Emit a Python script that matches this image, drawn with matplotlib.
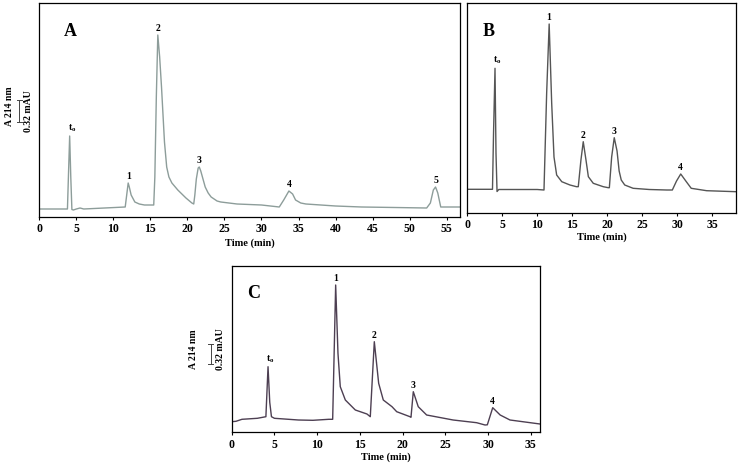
import matplotlib
matplotlib.use("Agg")
import matplotlib.pyplot as plt
from matplotlib.lines import Line2D

plt.rcParams['font.family'] = ['Liberation Serif', 'DejaVu Serif']
plt.rcParams['font.weight'] = 'bold'
plt.rcParams['mathtext.fontset'] = 'custom'
plt.rcParams['mathtext.rm'] = 'Liberation Serif:bold'
plt.rcParams['mathtext.bf'] = 'Liberation Serif:bold'
plt.rcParams['mathtext.it'] = 'Liberation Serif:bold'

# chromatogram A (time in min, signal in arbitrary units)
time_a = [0.0, 3.8, 3.95, 4.1, 4.25, 4.4, 4.6, 5.0, 5.5, 6.0, 11.6, 11.8, 12.0, 12.15,
          12.4, 12.9, 13.5, 14.2, 15.3, 15.45, 15.6, 15.8, 16.0, 16.25, 16.5, 16.9,
          17.2, 17.5, 17.9, 18.7, 19.8, 20.6, 20.85, 21.0, 21.2, 21.45, 21.6, 21.8,
          22.1, 22.4, 22.8, 23.2, 24.0, 24.5, 26.7, 30.0, 32.4, 33.0, 33.7, 34.2,
          34.6, 35.3, 36.0, 40.0, 43.5, 48.0, 52.3, 52.8, 53.2, 53.5, 53.8, 54.2,
          55.0, 56.8]
sig_a = [8, 8, 45, 81, 40, 7.5, 7, 8, 9, 8, 10, 22, 34, 30,
         22, 15, 13, 12, 12, 12, 40, 120, 182, 160, 130, 75,
         50, 40, 34, 27, 19, 14, 13, 22, 38, 49, 50, 46,
         38, 30, 24, 20, 16, 15, 13, 12, 10, 17, 26, 23,
         17, 14, 13, 11, 10, 9.5, 9, 14, 27, 30, 24, 10,
         10, 10]
peaks_a = ["t0", "1", "2", "3", "4", "5"]
peak_t_a = [4.1, 12.0, 16.0, 21.6, 33.7, 53.5]
peak_h_a = [81, 34, 182, 50, 26, 30]

# chromatogram B
time_b = [0.0, 3.6, 3.75, 3.96, 4.1, 4.25, 4.5, 10.0, 10.96, 11.34, 11.7, 12.06,
          12.39, 12.77, 13.5, 14.67, 15.6, 15.86, 16.24, 16.57, 16.96, 17.3, 18.0,
          19.43, 20.14, 20.3, 20.63, 21.0, 21.4, 21.7, 22.0, 22.5, 23.7, 26.0, 28.5,
          29.3, 29.9, 30.5, 31.3, 32.0, 34.2, 38.4]
sig_b = [23.7, 23.7, 80, 144.7, 60, 21.5, 23.5, 23.5, 23, 119.7, 189, 109.7,
         56, 38, 31.3, 28, 26.3, 26.3, 53, 71.3, 53, 36.3, 29.7,
         26.3, 25.3, 25.3, 56, 75.3, 62, 42, 33, 28, 24.7, 23.5, 23,
         23, 32, 39, 31.3, 24.7, 22.3, 21.3]
peaks_b = ["t0", "1", "2", "3", "4"]
peak_t_b = [3.96, 11.7, 16.57, 21.0, 30.5]
peak_h_b = [144.7, 189, 71.3, 75.3, 39]

# chromatogram C
time_c = [0.0, 0.5, 1.2, 3.0, 4.0, 4.25, 4.45, 4.65, 5.0, 7.8, 9.5, 11.35, 11.81,
          12.16, 12.43, 12.7, 13.29, 14.46, 15.82, 16.21, 16.68, 17.19, 17.73,
          18.75, 19.3, 20.85, 20.97, 21.24, 21.82, 22.8, 25.9, 28.65, 29.63, 29.9,
          30.53, 31.4, 32.55, 36.06]
sig_c = [10.6, 11, 13, 14, 15.6, 65.6, 30, 15.6, 14, 12.3, 12, 13, 13,
         147.3, 79, 45.6, 32.3, 22.3, 18.3, 15.6, 90.6, 49, 32.3,
         25.6, 20.6, 15.6, 15, 40.6, 25.6, 17.3, 12.3, 9.6, 7.3, 7.5,
         24.6, 17.3, 12.3, 8.3]
peaks_c = ["t0", "1", "2", "3", "4"]
peak_t_c = [4.25, 12.16, 16.68, 21.24, 30.53]
peak_h_c = [65.6, 147.3, 90.6, 40.6, 24.6]

ticks_a = list(range(0, 60, 5))
ticks_bc = list(range(0, 40, 5))

W, H = 743, 469
fig = plt.figure(figsize=(W / 100, H / 100), dpi=100)


def fx(px):
    return px / W


def fy(py):
    return 1 - py / H


def panel(rect_px, xmax, ymax, t, s, color, labels, pt, ph, ticks, letter, letter_px, lpad):
    left, top, right, bottom = rect_px
    ax = fig.add_axes([fx(left), fy(bottom), (right - left) / W, (bottom - top) / H])
    ax.plot(t, s, color=color, lw=1.0)
    ax.set_xlim(0, xmax)
    ax.set_ylim(0, ymax)
    ax.set_yticks([])
    ax.set_xticks(ticks)
    ax.tick_params(axis='x', direction='out', length=2.5, width=0.8, pad=2, labelsize=8.5)
    for sp in ax.spines.values():
        sp.set_linewidth(0.9)
    ax.set_xlabel("Time (min)", fontsize=7.5, fontweight='bold', labelpad=lpad)
    for lab, x, y in zip(labels, pt, ph):
        txt = r'$\mathbf{t_o}$' if lab == "t0" else lab
        dx = 1.5 if lab == "t0" else 0
        ax.annotate(txt, xy=(x, y), xytext=(dx, 1.5), textcoords='offset points',
                    ha='center', va='bottom', fontsize=7, fontweight='bold')
    fig.text(fx(letter_px[0]), fy(letter_px[1]), letter, fontsize=13, fontweight='bold',
             ha='center', va='center')
    return ax


ax_a = panel((39.3, 3, 459.7, 217), 56.76, 214, time_a, sig_a, "#8d9d9a",
             peaks_a, peak_t_a, peak_h_a, ticks_a, "A", (70.5, 32), 2)
ax_b = panel((467.3, 3, 736, 213), 38.4, 210, time_b, sig_b, "#555555",
             peaks_b, peak_t_b, peak_h_b, ticks_bc, "B", (489, 31), 1)
ax_c = panel((231.7, 266, 540, 432.3), 36.06, 166.3, time_c, sig_c, "#4d3f52",
             peaks_c, peak_t_c, peak_h_c, ticks_bc, "C", (253.5, 293), 1)


# absorbance scale bars
def scale_bar(x_lab, y_lab, x_bar, y0, y1, x_mau, y_mau):
    fig.text(fx(x_lab), fy(y_lab), "A 214 nm", rotation=90, fontsize=7,
             fontweight='bold', ha='center', va='center')
    fig.add_artist(Line2D([fx(x_bar), fx(x_bar)], [fy(y0), fy(y1)], color='#444444', lw=0.7))
    for yy in (y0, y1):
        fig.add_artist(Line2D([fx(x_bar - 2.5), fx(x_bar + 2.5)], [fy(yy), fy(yy)],
                              color='#444444', lw=0.7))
    fig.text(fx(x_mau), fy(y_mau), "0.32 mAU", rotation=90, fontsize=7,
             fontweight='bold', ha='center', va='center')


scale_bar(9.5, 106, 19, 100, 122, 28.5, 111)
scale_bar(194, 349.5, 210.7, 344, 364, 220.5, 349)

fig.savefig("out.png", dpi=100)
